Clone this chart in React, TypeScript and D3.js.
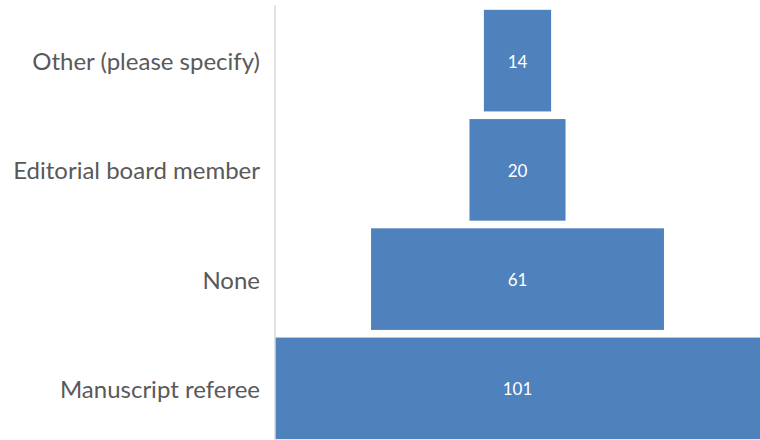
import React from "react";
import * as d3 from "d3";

const categories = ["Other (please specify)", "Editorial board member", "None", "Manuscript referee"];
const values = [14, 20, 61, 101];

const W = 760;
const H = 440;
const axisX = 275;

export default function App() {
  const y = d3.scaleBand<string>().domain(categories).range([6, 443]).paddingInner(0.07).paddingOuter(0.035);
  const maxV = d3.max(values) as number;
  const w = d3.scaleLinear().domain([0, maxV]).range([0, W - axisX]);
  const cx = axisX + (W - axisX) / 2;
  const font = "Lato, 'Noto Sans', sans-serif";
  return (
    <svg width={W} height={H} style={{ position: "absolute", left: 0, top: 0, background: "#fff" }}>
      {categories.map((c, i) => {
        const bw = w(values[i]);
        const yy = y(c) as number;
        return (
          <g key={c}>
            <rect x={cx - bw / 2} y={yy} width={bw} height={y.bandwidth()} fill="#4f81bd" />
            <text x={cx} y={yy + y.bandwidth() / 2 + 1} dy="0.35em" textAnchor="middle" fill="#fff" fontFamily={font} fontSize={17}>
              {values[i]}
            </text>
            <text x={260} y={yy + y.bandwidth() / 2 + 1} dy="0.35em" textAnchor="end" fill="#595959" fontFamily={font} fontSize={24}>
              {c}
            </text>
          </g>
        );
      })}
      <line x1={axisX} x2={axisX} y1={5} y2={H} stroke="#d9d9d9" strokeWidth={1.5} />
    </svg>
  );
}
